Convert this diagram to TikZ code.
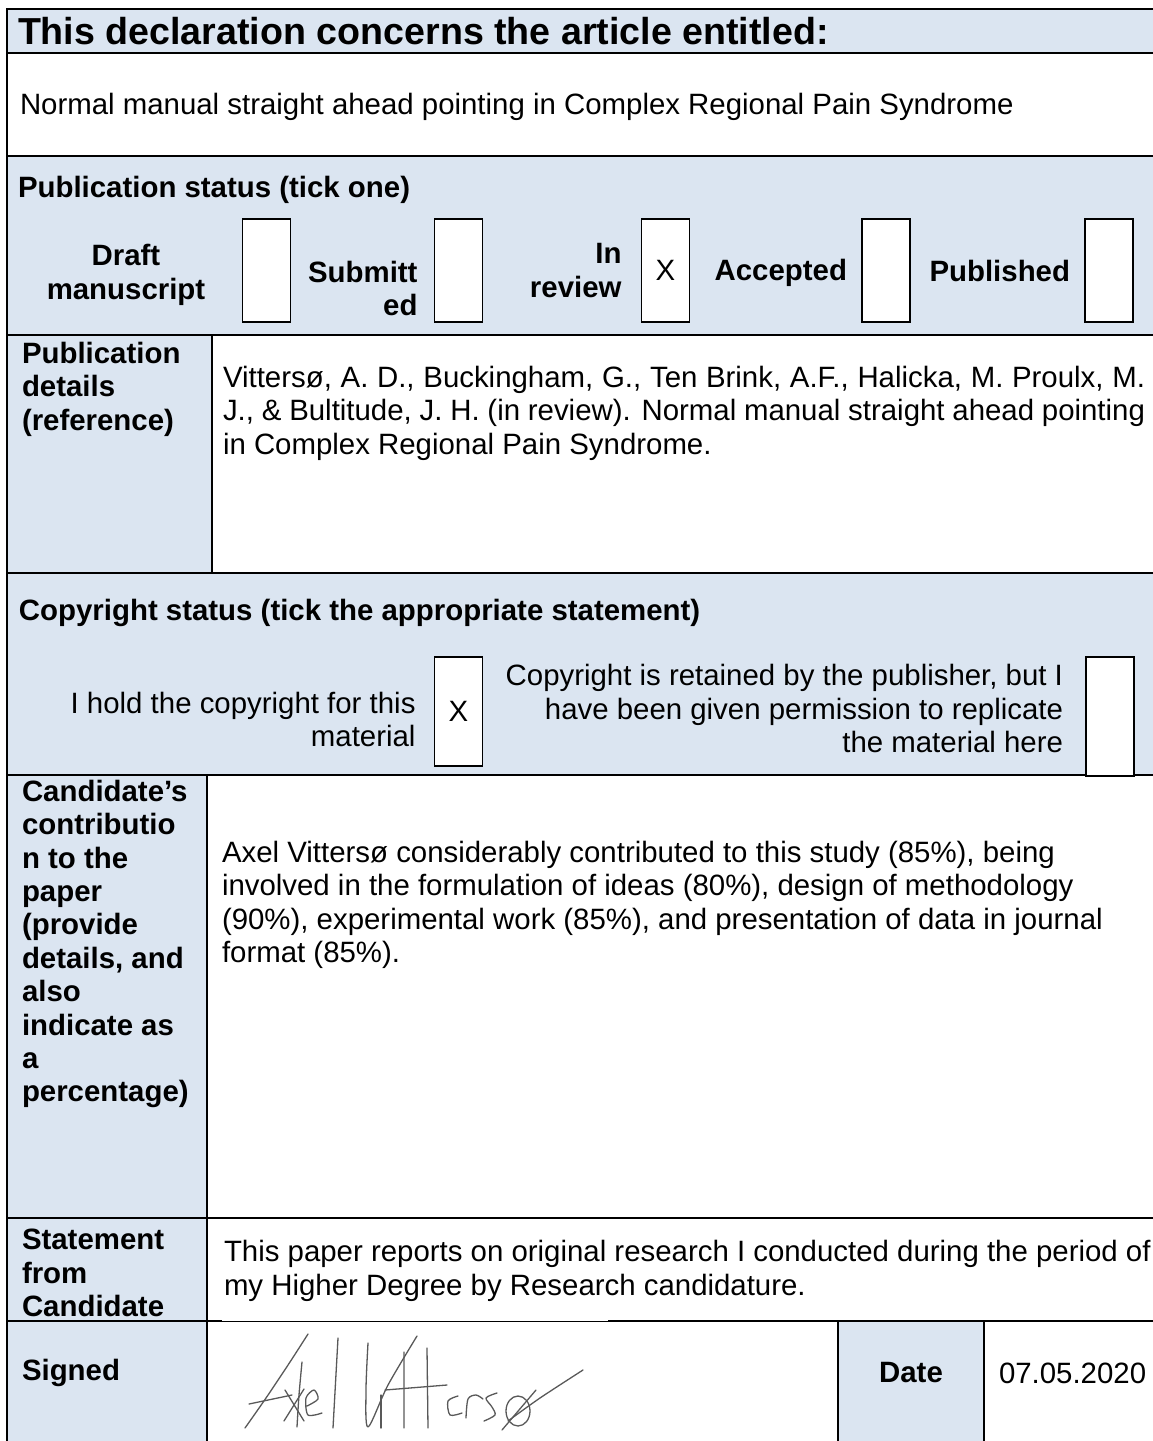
\documentclass[tikz,border=0pt]{standalone}
\usepackage{fontspec}
\setmainfont{Liberation Sans}
\usetikzlibrary{positioning}
\definecolor{cellblue}{HTML}{DBE5F1}

\begin{document}
\begin{tikzpicture}[x=1pt, y=-1pt,
  every node/.style={inner sep=0pt, outer sep=0pt},
  txt/.style={font=\fontsize{29.4}{33.4}\selectfont},
  bld/.style={font=\fontsize{29.4}{33.4}\selectfont\bfseries},
  tickbox/.style={draw, fill=white, line width=1.2pt, minimum width=48pt, minimum height=103pt, txt},
  rule/.style={line width=1.7pt},
  sig/.style={draw=black!65, line width=1.3pt, line cap=round, line join=round}]
  \useasboundingbox (0,0) rectangle (1153,1441);

  % shaded cells
  \fill[cellblue] (7,9) rectangle (1153,53);
  \fill[cellblue] (7,156) rectangle (1153,335);
  \fill[cellblue] (7,335) rectangle (212,573);
  \fill[cellblue] (7,573) rectangle (1153,775);
  \fill[cellblue] (7,775) rectangle (207,1441);
  \fill[cellblue] (838,1321) rectangle (984,1441);

  % grid
  \draw[rule] (7,1441) -- (7,9) -- (1153,9);
  \foreach \y in {53,156,335,573,775,1218}
    \draw[rule] (7,\y) -- (1153,\y);
  \draw[rule] (7,1321) -- (222,1321) (608,1321) -- (1153,1321);
  \draw[line width=0.6pt] (222,1321) -- (608,1321);
  \draw[rule] (212,335) -- (212,573);
  \draw[rule] (207,775) -- (207,1441);
  \draw[rule] (838,1321) -- (838,1441) (984,1321) -- (984,1441);

  % header and title
  \node[font=\fontsize{37.6}{42}\selectfont\bfseries, anchor=west] (head) at (18,31) {This declaration concerns the article entitled:};
  \node[txt, anchor=west] (title) at (20,107) {Normal manual straight ahead pointing in Complex Regional Pain Syndrome};

  % publication status
  \node[bld, anchor=west] (stat) at (18,190) {Publication status (tick one)};
  \node[tickbox] (draft) at (266.5,270.5) {};
  \node[tickbox] (subm) at (458.5,270.5) {};
  \node[tickbox] (inrev) at (665.5,270.5) {X};
  \node[tickbox] (acc) at (886,270.5) {};
  \node[tickbox] (publ) at (1109,270.5) {};
  \node[bld, align=center] (ldraft) at (126,275) {Draft\\manuscript};
  \node[bld, align=right, left=17pt of subm, yshift=-18pt] (lsubm) {Submitt\\ed};
  \node[bld, align=right, left=20pt of inrev] (linrev) {In\\review};
  \node[bld, left=15pt of acc, yshift=-2pt] (lacc) {Accepted};
  \node[bld, left=15pt of publ] (lpubl) {Published};

  % publication details
  \node[bld, align=left, anchor=west] (ldet) at (22,389) {Publication\\details\\(reference)};
  \node[txt, align=left, anchor=west] (det) at (223,413) {\makebox[922pt][s]{Vittersø, A. D., Buckingham, G., Ten Brink, A.F., Halicka, M. Proulx, M.}\\\makebox[922pt][s]{J., \& Bultitude, J. H. (in review). Normal manual straight ahead pointing}\\in Complex Regional Pain Syndrome.};

  % copyright
  \node[bld, anchor=west] (copy) at (19,613) {Copyright status (tick the appropriate statement)};
  \node[tickbox, minimum height=109pt] (own) at (458.5,711.5) {X};
  \node[tickbox, minimum height=119pt] (perm) at (1110,716.5) {};
  \node[txt, align=right, left=19pt of own, yshift=-8pt] (lown) {I hold the copyright for this\\material};
  \node[txt, align=right, left=23pt of perm, yshift=8pt] (lperm) {Copyright is retained by the publisher, but I\\have been given permission to replicate\\the material here};

  % contribution
  \node[bld, align=left, anchor=west] (lcand) at (22,944) {Candidate’s\\contributio\\n to the\\paper\\(provide\\details, and\\also\\indicate as\\a\\percentage)};
  \node[txt, align=left, anchor=west] (cand) at (222,905) {Axel Vittersø considerably contributed to this study (85\%), being\\involved in the formulation of ideas (80\%), design of methodology\\(90\%), experimental work (85\%), and presentation of data in journal\\format (85\%).};

  % statement
  \node[bld, align=left, anchor=west] (lstmt) at (22,1273) {Statement\\from\\Candidate};
  \node[txt, align=left, anchor=west] (stmt) at (224,1271) {This paper reports on original research I conducted during the period of\\my Higher Degree by Research candidature.};

  % signed and date
  \node[bld, anchor=west] (lsign) at (22,1373) {Signed};
  \node[bld] (ldate) at (911,1373) {Date};
  \node[txt, anchor=west] (date) at (999,1373) {07.05.2020};

  % signature
  \draw[sig] plot[smooth] coordinates {(308,1334) (290,1362) (266,1398) (245,1428)};
  \draw[sig] plot[smooth] coordinates {(302,1362) (299,1395) (297,1427)};
  \draw[sig] (249,1404) -- (292,1395);
  \draw[sig] (285,1390) -- (304,1421) (304,1389) -- (284,1421);
  \draw[sig] plot[smooth] coordinates {(307,1406) (318,1399) (314,1390) (306,1398) (308,1415) (322,1413)};
  \draw[sig] (338,1338) -- (333,1428);
  \draw[sig] plot[smooth] coordinates {(368,1343) (366,1390) (368,1427) (388,1385) (417,1336)};
  \draw[sig] (381,1395) -- (381,1428);
  \draw[sig] (404,1352) -- (404,1428) (427,1348) -- (428,1428);
  \draw[sig] (385,1390) -- (447,1385);
  \draw[sig] plot[smooth] coordinates {(458,1396) (448,1401) (450,1415) (462,1413)};
  \draw[sig] plot[smooth] coordinates {(466,1418) (468,1399) (476,1395) (483,1399)};
  \draw[sig] plot[smooth] coordinates {(497,1393) (486,1398) (492,1407) (495,1415) (484,1421)};
  \draw[sig] (518,1411) ellipse (12 and 15);
  \draw[sig] (502,1430) -- (536,1390);
  \draw[sig] plot[smooth] coordinates {(508,1421) (540,1398) (583,1370)};
\end{tikzpicture}
\end{document}
